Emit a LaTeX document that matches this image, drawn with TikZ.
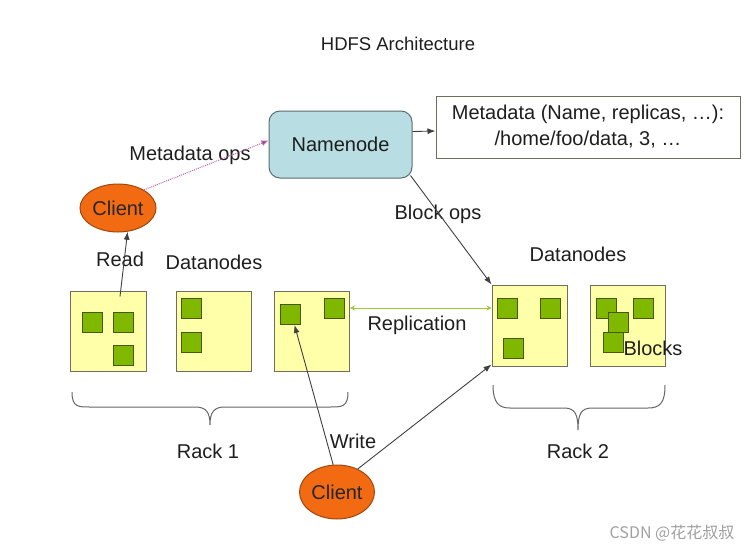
\documentclass[tikz,border=0pt]{standalone}
\usepackage{fontspec}
\setmainfont{Liberation Sans}
\newfontfamily\cjkfont{Noto Sans CJK SC}
\usetikzlibrary{arrows.meta,shapes.geometric}
\definecolor{txt}{HTML}{1E1E1E}
\definecolor{nnfill}{HTML}{B8DDE2}
\definecolor{nnline}{HTML}{5A6E70}
\definecolor{clfill}{HTML}{F26A12}
\definecolor{clline}{HTML}{9A4A10}
\definecolor{dnfill}{HTML}{FFFFAA}
\definecolor{dnline}{HTML}{6E6E5E}
\definecolor{blkfill}{HTML}{80B800}
\definecolor{blkline}{HTML}{45580E}
\definecolor{repl}{HTML}{9ACD32}
\definecolor{metaops}{HTML}{A0208C}
\definecolor{wm}{HTML}{A0A0A0}
\tikzset{
  lbl/.style={font=\fontsize{20}{24}\selectfont, text=txt, inner sep=0pt},
  namebox/.style={draw=nnline, fill=nnfill, rounded corners=11pt, line width=1pt,
    minimum width=143pt, minimum height=67pt, font=\fontsize{20}{24}\selectfont, text=txt},
  metabox/.style={draw=dnline, fill=white, line width=1pt, minimum width=304pt, minimum height=62pt,
    align=center, font=\fontsize{20}{26}\selectfont, text=txt},
  client/.style={ellipse, draw=clline, fill=clfill, line width=1pt, inner sep=0pt,
    minimum width=76pt, minimum height=48pt, font=\fontsize{20}{24}\selectfont, text=black!85},
  dnode/.style={draw=dnline, fill=dnfill, line width=1pt, minimum width=75pt, minimum height=80pt, inner sep=0pt},
  blk/.style={draw=blkline, fill=blkfill, line width=1pt, minimum width=20pt, minimum height=20pt, inner sep=0pt},
  arr/.style={draw=black!75, line width=0.9pt, -{Latex[length=8pt,width=6pt]}},
  bracel/.style={draw=black!60, line width=1pt},
}
\begin{document}
\begin{tikzpicture}[x=1pt,y=-1pt]
\useasboundingbox[fill=white] (0,0) rectangle (755,552);

\node[lbl, font=\fontsize{18.5}{22}\selectfont] (title) at (398,44) {HDFS Architecture};

\node[namebox] (nn) at (340.5,144.5) {Namenode};
\node[metabox] (meta) at (588,127) {Metadata (Name, replicas, \dots):\\ /home/foo/data, 3, \dots};

\node[client] (client1) at (118,208) {Client};
\node[client, minimum width=75pt, minimum height=54pt] (client2) at (337,492) {Client};

% datanodes rack 1
\node[dnode, minimum width=76pt] (dn1) at (108,331) {};
\node[dnode] (dn2) at (213.5,331) {};
\node[dnode] (dn3) at (312,331) {};
% datanodes rack 2
\node[dnode, minimum height=81pt] (dn4) at (529.5,325.5) {};
\node[dnode, minimum height=81pt] (dn5) at (627.5,325.5) {};

% blocks
\node[blk] (b11) at (92.5,322) {};
\node[blk] (b12) at (123.5,322) {};
\node[blk] (b13) at (123.5,355.5) {};
\node[blk] (b21) at (191.5,308) {};
\node[blk] (b22) at (191.5,342) {};
\node[blk] (b31) at (290.5,314.5) {};
\node[blk] (b32) at (334,308) {};
\node[blk] (b41) at (507,308) {};
\node[blk] (b42) at (550,308) {};
\node[blk] (b43) at (513,348) {};
\node[blk] (b51) at (606,308) {};
\node[blk] (b52) at (643,308) {};
\node[blk] (b53) at (618,322) {};
\node[blk] (b54) at (613,342) {};

% labels
\node[lbl] (lmeta) at (190,155) {Metadata ops};
\node[lbl] (lread) at (120,259) {Read};
\node[lbl] (ldn1) at (214,262) {Datanodes};
\node[lbl] (ldn2) at (578,254) {Datanodes};
\node[lbl] (lblock) at (438,214) {Block ops};
\node[lbl] (lrepl) at (417,325) {Replication};
\node[lbl] (lblocks) at (653,348) {Blocks};
\node[lbl] (lwrite) at (353,441) {Write};
\node[lbl] (lrack1) at (208,451) {Rack 1};
\node[lbl] (lrack2) at (578,451) {Rack 2};

% connectors
\draw[arr] ([xshift=12pt,yshift=-6pt]dn1.north) -- (client1.-68);
\draw[draw=metaops!70, densely dotted, line width=1pt, -{Latex[length=7pt,width=6pt]}, -{Latex[length=7pt,width=6pt,fill=metaops]}]
  (client1.35) -- ([yshift=4pt]nn.west);
\draw[arr] ([yshift=13pt]nn.east) -- ([yshift=-4pt]meta.west);
\draw[arr] ([xshift=-2pt,yshift=3pt]nn.south east) -- (dn4.north west);
\draw[draw=repl, line width=1pt, {Stealth[length=5pt,width=5pt]}-{Stealth[length=5pt,width=5pt]}]
  (dn3.east |- b32) -- (dn4.west |- b41);
\draw[arr] (client2.98) -- ([xshift=4pt]b31.south);
\draw[arr] (client2.48) -- ([yshift=2pt]dn4.south west);

% braces
\draw[bracel] (72,392) .. controls (72,407) and (78,407) .. (90,407) -- (195,407)
  .. controls (206,407) and (210,412) .. (210,425)
  .. controls (210,412) and (214,407) .. (225,407) -- (330,407)
  .. controls (342,407) and (348,407) .. (348,392);
\draw[bracel] (493,385) .. controls (493,403) and (499,408) .. (510,408) -- (564,408)
  .. controls (575,408) and (578,414) .. (578,430)
  .. controls (578,414) and (581,408) .. (592,408) -- (648,408)
  .. controls (660,408) and (665,403) .. (665,385);

\node[font=\cjkfont\fontsize{16}{18}\selectfont, text=wm, inner sep=0pt] (wmark) at (672,533) {CSDN @花花叔叔};
\end{tikzpicture}
\end{document}
